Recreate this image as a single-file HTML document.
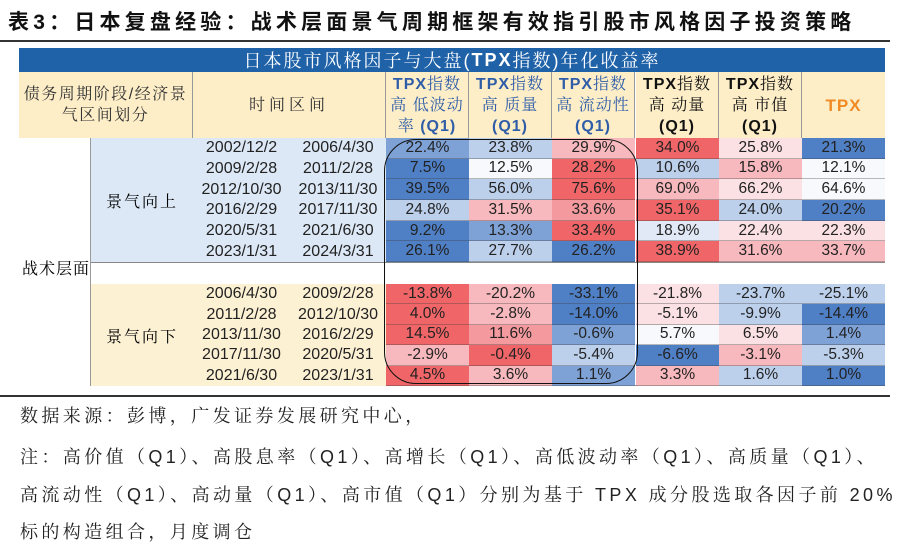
<!DOCTYPE html>
<html><head><meta charset="utf-8">
<style>
body{margin:0;width:901px;height:553px;background:#fff;position:relative;overflow:hidden;font-family:"Liberation Sans","Noto Sans CJK SC",sans-serif;}
.a{position:absolute;box-sizing:border-box;}
.c{display:flex;align-items:center;justify-content:center;text-align:center;}
.title{left:8px;top:6px;font-size:21px;font-weight:bold;color:#111;letter-spacing:4.2px;white-space:nowrap;}
.note{left:20px;font-size:18px;color:#222;letter-spacing:3.4px;white-space:nowrap;font-family:"Liberation Sans","Noto Serif CJK SC",serif;}
.hd{background:#fdeec8;font-family:"Liberation Sans","Noto Serif CJK SC",serif;font-size:16px;line-height:21px;color:#333;border-right:1px solid #999;}
.cell{font-size:15.5px;color:#222;}
</style></head><body>
<div class="a title">表3：日本复盘经验：战术层面景气周期框架有效指引股市风格因子投资策略</div>
<div class="a" style="left:0;top:40px;width:890px;height:2px;background:#333"></div>

<div class="a" id="tbl" style="left:19px;top:48px;width:866px;height:338px;border:1px solid #888"></div>
<div class="a c" style="left:19px;top:48px;width:866px;height:24px;background:#1f62a8;color:#fff;font-size:18px;letter-spacing:2px;font-family:'Liberation Sans','Noto Serif CJK SC',serif">日本股市风格因子与大盘(<b>TPX</b>指数)年化收益率</div>

<div class="a c hd" style="left:19px;top:72px;width:174px;height:66px;letter-spacing:1.5px">债务周期阶段/经济景<br>气区间划分</div>
<div class="a c hd" style="left:193px;top:72px;width:193px;height:66px;letter-spacing:4px">时间区间</div>
<div id="hdrs"></div>

<div class="a" style="left:19px;top:138px;width:72px;height:248px;background:#fff;border-right:1px solid #999;font-size:16px;font-family:'Liberation Sans','Noto Serif CJK SC',serif"><span style="position:absolute;top:118px;left:3px;letter-spacing:1px">战术层面</span></div>
<div class="a c" style="left:91px;top:138px;width:102px;height:124px;background:#dce8f6;font-size:16px;letter-spacing:2px;font-family:'Liberation Sans','Noto Serif CJK SC',serif">景气向上</div>
<div class="a" style="left:91px;top:262px;width:794px;height:22px;background:#fff;border-top:1px solid #888"></div>
<div class="a c" style="left:91px;top:284px;width:102px;height:102px;background:#fdf1d4;font-size:16px;letter-spacing:2px;font-family:'Liberation Sans','Noto Serif CJK SC',serif">景气向下</div>
<div id="cells"></div>
<div class="a" style="left:384px;top:139px;width:254px;height:245px;border:1.6px solid #111;border-radius:32px"></div>
<div class="a" style="left:0;top:395px;width:890px;height:2px;background:#333"></div>

<div class="a note" style="top:402px">数据来源：彭博，广发证券发展研究中心，</div>
<div class="a note" style="top:443px">注：高价值（Q1）、高股息率（Q1）、高增长（Q1）、高低波动率（Q1）、高质量（Q1）、</div>
<div class="a note" style="top:481px">高流动性（Q1）、高动量（Q1）、高市值（Q1）分别为基于 TPX 成分股选取各因子前 20%</div>
<div class="a note" style="top:518px">标的构造组合，月度调仓</div>

<script>
const headers=[["TPX指数","高 低波动","率 (Q1)"],["TPX指数","高 质量","(Q1)"],["TPX指数","高 流动性","(Q1)"],["TPX指数","高 动量","(Q1)"],["TPX指数","高 市值","(Q1)"],["TPX"]];
const startDates=["2002/12/2","2009/2/28","2012/10/30","2016/2/29","2020/5/31","2023/1/31","2006/4/30","2011/2/28","2013/11/30","2017/11/30","2021/6/30"];
const endDates=["2006/4/30","2011/2/28","2013/11/30","2017/11/30","2021/6/30","2024/3/31","2009/2/28","2012/10/30","2016/2/29","2020/5/31","2023/1/31"];
const values=[
["22.4%","23.8%","29.9%","34.0%","25.8%","21.3%"],
["7.5%","12.5%","28.2%","10.6%","15.8%","12.1%"],
["39.5%","56.0%","75.6%","69.0%","66.2%","64.6%"],
["24.8%","31.5%","33.6%","35.1%","24.0%","20.2%"],
["9.2%","13.3%","33.4%","18.9%","22.4%","22.3%"],
["26.1%","27.7%","26.2%","38.9%","31.6%","33.7%"],
["-13.8%","-20.2%","-33.1%","-21.8%","-23.7%","-25.1%"],
["4.0%","-2.8%","-14.0%","-5.1%","-9.9%","-14.4%"],
["14.5%","11.6%","-0.6%","5.7%","6.5%","1.4%"],
["-2.9%","-0.4%","-5.4%","-6.6%","-3.1%","-5.3%"],
["4.5%","3.6%","1.1%","3.3%","1.6%","1.0%"]];
const shades=[
["B2","B1","R1","R3","R0","B3"],
["B3","W","R3","B1","R1","W"],
["B3","B1","R3","R1","R0","W"],
["B1","R1","R2","R3","B1","B3"],
["B3","B2","R3","B0","R0","R0"],
["B3","B1","B3","R3","R1","R1"],
["R3","R1","B3","R0","B1","B1"],
["R3","R1","B3","R0","B1","B3"],
["R3","R2","B2","W","R0","B2"],
["R1","R3","B1","B3","R1","B1"],
["R3","R1","B2","R1","B1","B3"]];
const pal={B3:"#4f7fc4",B2:"#7ea2d6",B1:"#bcd0ec",B0:"#e1e9f6",W:"#f8f9fc",R0:"#fbe1e4",R1:"#f7b9bd",R2:"#f49a9e",R3:"#f06668"};
const colX=[386,469,552,636,719,802], colW=83;
function rowY(i){return i<6?138+i*20.67:284+(i-6)*20.4;}
function rowH(i){return i<6?20.67:20.4;}
const H=document.getElementById('hdrs');
headers.forEach((h,j)=>{
 const d=document.createElement('div');
 d.className='a c hd';
 d.style.cssText=`left:${colX[j]}px;top:72px;width:${colW}px;height:66px;flex-direction:column;`+(j<3?'color:#2f5da8;':j==5?'color:#f08a24;font-size:17px;font-weight:bold;':'color:#111;')+(j==5?'border-right:none;':'');
 d.innerHTML=h.map(t=>'<div style="white-space:nowrap;letter-spacing:1px">'+t.replace(/TPX|\(Q1\)/g,m=>'<b style="font-family:Liberation Sans">'+m+'</b>')+'</div>').join('');
 
 
 H.appendChild(d);
});
const C=document.getElementById('cells');
for(let i=0;i<values.length;i++){
 const y=rowY(i),h=rowH(i),bg=i<6?'#dce8f6':'#fdf1d4';
 const s=document.createElement('div');
 s.className='a c cell';
 s.style.cssText=`left:193px;top:${y}px;width:97px;height:${h}px;background:${bg};font-size:16px`;
 s.textContent=startDates[i];
 
 
 C.appendChild(s);
 const e=document.createElement('div');
 e.className='a c cell';
 e.style.cssText=`left:290px;top:${y}px;width:96px;height:${h}px;background:${bg};font-size:16px`;
 e.textContent=endDates[i];
 
 
 C.appendChild(e);
 for(let j=0;j<6;j++){
  const v=document.createElement('div');
  v.className='a c cell';
  v.style.cssText=`left:${colX[j]}px;top:${y}px;width:${colW}px;height:${h}px;background:${pal[shades[i][j]]};border-bottom:1px solid rgba(60,60,60,0.35)`;
  v.textContent=values[i][j];
  
  
  C.appendChild(v);
 }
}
</script>
</body></html>
